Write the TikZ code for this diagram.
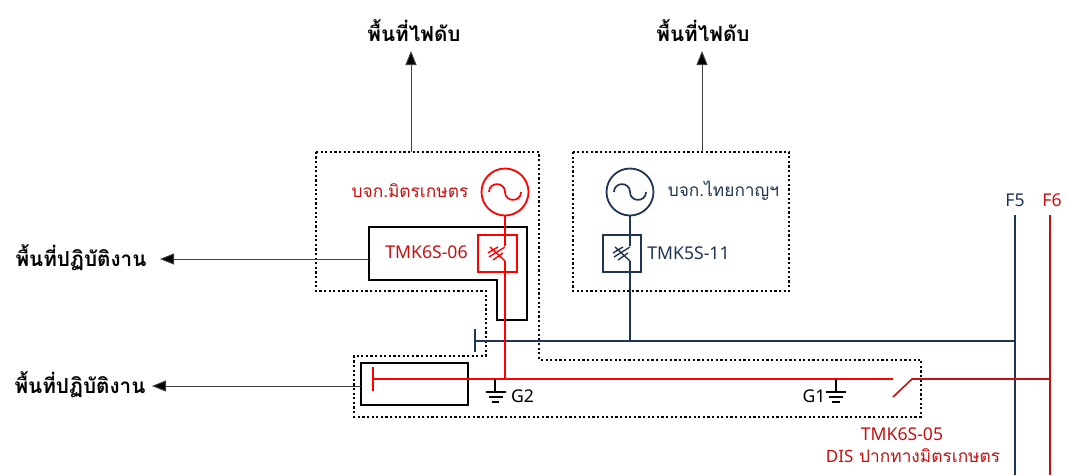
\documentclass[tikz,border=0pt]{standalone}
\usepackage{fontspec}
\setmainfont{Noto Sans}
\newfontfamily\thaifont[Script=Thai]{Loma}
\usetikzlibrary{arrows.meta}
\definecolor{navyc}{HTML}{1F3556}
\definecolor{redc}{HTML}{FF0000}
\definecolor{redt}{HTML}{C80F0F}
\tikzset{
  dotbox/.style={line width=2pt,dash pattern=on 2.2pt off 2.4pt,black},
  heavybox/.style={line width=1.9pt,black},
  redln/.style={line width=1.8pt,redc},
  navyln/.style={line width=1.8pt,navyc},
  darkred/.style={line width=1.6pt,redt},
  arrowln/.style={line width=0.9pt,black!75,-{Triangle[length=14pt,width=11pt,fill=black]}},
  gnd/.style={line width=1.2pt,black},
  lab/.style={inner sep=0pt,outer sep=0pt,anchor=center},
  bigth/.style={lab,font=\thaifont\bfseries\fontsize{20.7}{24}\selectfont,black},
  smallth/.style={lab,font=\thaifont\fontsize{17.3}{21}\selectfont},
  tag/.style={lab,font=\fontsize{17.6}{20}\selectfont}
}
\begin{document}
\begin{tikzpicture}[x=1pt,y=-1pt]
\useasboundingbox (0,0) rectangle (1068,475);
\fill[white] (0,0) rectangle (1068,475);

% outage / dotted zones
\draw[dotbox] (316,152) -- (539,152) -- (539,359.5) -- (921,359.5) -- (921,416.5) -- (354,416.5) -- (354,356) -- (486,356) -- (486,291) -- (316,291) -- cycle;
\draw[dotbox] (573,152) rectangle (789,291);

% operating-area outlines
\draw[heavybox] (369,227) -- (527,227) -- (527,320) -- (497,320) -- (497,280) -- (369,280) -- cycle;
\draw[heavybox] (361,363) rectangle (468,405);

% bus bars
\coordinate (f5t) at (1015,215); \coordinate (f5b) at (1015,475);
\coordinate (f6t) at (1050,215); \coordinate (f6b) at (1050,475);
\draw[navyln] (f5t) -- (f5b);
\draw[darkred] (f6t) -- (f6b);
\coordinate (nbl) at (475,341); \coordinate (nbr) at (1015,341);
\draw[navyln] (nbl) -- (nbr);
\draw[navyln] (475,329) -- (475,352);
\draw[redln] (373,367) -- (373,391);
\draw[redln] (373,379) -- (893,379);
\draw[darkred] (893,397) -- (912,379) -- (1050,379);

% generators
\node[circle,draw=redc,line width=1.8pt,minimum size=47pt,inner sep=0pt] (genr) at (505,192) {};
\node[circle,draw=navyc,line width=1.8pt,minimum size=47pt,inner sep=0pt] (genn) at (630,192) {};
\draw[redc,line width=1.7pt] (489,192) .. controls (489,181.5) and (505,181.5) .. (505,192) .. controls (505,202.5) and (521,202.5) .. (521,192);
\draw[navyc,line width=1.7pt] (614,192) .. controls (614,181.5) and (630,181.5) .. (630,192) .. controls (630,202.5) and (646,202.5) .. (646,192);

% breakers
\node[draw=redc,line width=1.7pt,minimum width=39pt,minimum height=37pt,inner sep=0pt] (brr) at (497.5,253.5) {};
\node[draw=navyc,line width=1.7pt,minimum width=38pt,minimum height=37pt,inner sep=0pt] (brn) at (622,253.5) {};
\draw[redln] (genr.south) -- (505,246);
\draw[redln] (505,261) -- (505,379);
\draw[redc,line width=1.4pt] (490,247) -- (505,261) (505,247) -- (489,257) (498,247) -- (488,253) (503,253) -- (493,260);
\draw[navyln] (genn.south) -- (630,246);
\draw[navyln] (630,261) -- (630,341);
\draw[navyc,line width=1.4pt] (615,247) -- (630,261) (630,247) -- (614,257) (623,247) -- (613,253) (628,253) -- (618,260);

% grounds
\draw[gnd] (495,379) -- (495,392) (486,392) -- (506,392) (489,397) -- (503,397) (492,402) -- (499,402);
\draw[gnd] (836,379) -- (836,392) (826,392) -- (846,392) (829,397) -- (843,397) (832,402) -- (840,402);

% labels
\node[bigth] (top1) at (414,31) {พื้นที่ไฟดับ};
\node[bigth] (top2) at (703,31) {พื้นที่ไฟดับ};
\node[bigth] (left1) at (81,258) {พื้นที่ปฏิบัติงาน};
\node[bigth] (left2) at (80,385) {พื้นที่ปฏิบัติงาน};
\node[smallth,text=redt] (lr) at (410,191) {บจก.มิตรเกษตร};
\node[smallth,text=navyc] (ln) at (723.5,191) {บจก.ไทยกาญฯ};
\node[tag,text=redt] (t06) at (426.5,252) {TMK6S-06};
\node[tag,text=navyc] (t11) at (688.5,253) {TMK5S-11};
\node[tag,text=black] (g2) at (522.5,396) {G2};
\node[tag,text=black] (g1) at (814,396) {G1};
\node[tag,text=redt] (t05) at (902,434) {TMK6S-05};
\node[smallth,text=redt] (dis) at (913,456) {{\fontspec{Noto Sans}\fontsize{17}{20}\selectfont DIS} ปากทางมิตรเกษตร};
\node[tag,text=navyc] (f5) at (1015,200) {F5};
\node[tag,text=redt] (f6) at (1052,200) {F6};

% arrows
\coordinate (a1s) at (411,152); \coordinate (a1e) at (411,51);
\coordinate (a2s) at (702,152); \coordinate (a2e) at (702,51);
\coordinate (a3s) at (369,259); \coordinate (a3e) at (160,259);
\coordinate (a4s) at (361,386); \coordinate (a4e) at (152,386);
\draw[arrowln] (a1s) -- (a1e);
\draw[arrowln] (a2s) -- (a2e);
\draw[arrowln] (a3s) -- (a3e);
\draw[arrowln] (a4s) -- (a4e);
\end{tikzpicture}
\end{document}
